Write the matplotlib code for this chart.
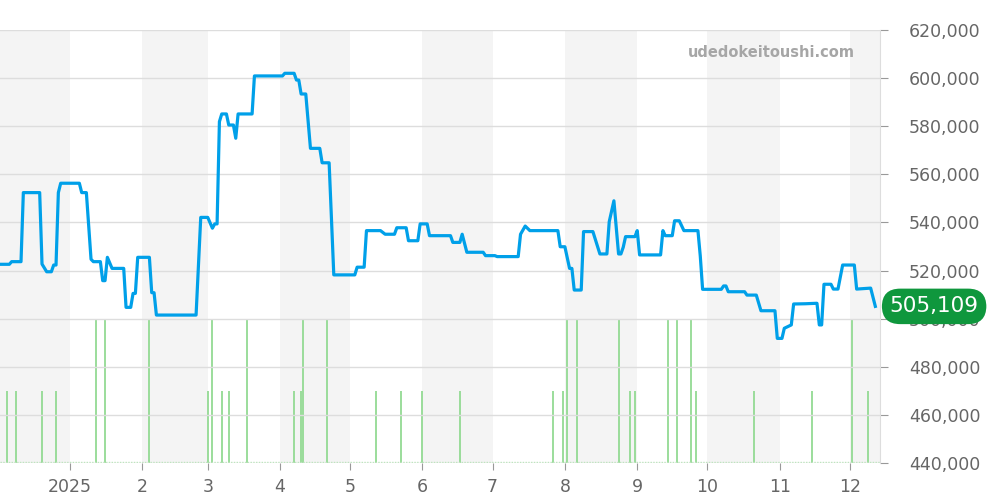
import matplotlib
matplotlib.use("Agg")
import matplotlib.pyplot as plt
import matplotlib.transforms as mtransforms
import numpy as np

# price history
price_dates = [
    "2024-12-02", "2024-12-06", "2024-12-07", "2024-12-11", "2024-12-12", "2024-12-19",
    "2024-12-20", "2024-12-22", "2024-12-24", "2024-12-25", "2024-12-26", "2024-12-27",
    "2024-12-28", "2025-01-05", "2025-01-06", "2025-01-08", "2025-01-10", "2025-01-11",
    "2025-01-14", "2025-01-15", "2025-01-16", "2025-01-17", "2025-01-19", "2025-01-24",
    "2025-01-25", "2025-01-27", "2025-01-28", "2025-01-29", "2025-01-30", "2025-02-04",
    "2025-02-05", "2025-02-06", "2025-02-07", "2025-02-24", "2025-02-26", "2025-03-01",
    "2025-03-03", "2025-03-04", "2025-03-05", "2025-03-06", "2025-03-07", "2025-03-09",
    "2025-03-10", "2025-03-12", "2025-03-13", "2025-03-14", "2025-03-20", "2025-03-21",
    "2025-04-02", "2025-04-03", "2025-04-07", "2025-04-08", "2025-04-09", "2025-04-10",
    "2025-04-12", "2025-04-14", "2025-04-18", "2025-04-19", "2025-04-22", "2025-04-24",
    "2025-05-03", "2025-05-04", "2025-05-07", "2025-05-08", "2025-05-14", "2025-05-16",
    "2025-05-20", "2025-05-21", "2025-05-25", "2025-05-26", "2025-05-30", "2025-05-31",
    "2025-06-03", "2025-06-04", "2025-06-13", "2025-06-14", "2025-06-17", "2025-06-18",
    "2025-06-20", "2025-06-27", "2025-06-28", "2025-07-02", "2025-07-03", "2025-07-12",
    "2025-07-13", "2025-07-15", "2025-07-17", "2025-07-29", "2025-07-30", "2025-08-01",
    "2025-08-03", "2025-08-04", "2025-08-05", "2025-08-08", "2025-08-09", "2025-08-13",
    "2025-08-16", "2025-08-19", "2025-08-20", "2025-08-22", "2025-08-24", "2025-08-25",
    "2025-08-26", "2025-08-27", "2025-08-31", "2025-09-01", "2025-09-02", "2025-09-11",
    "2025-09-12", "2025-09-13", "2025-09-16", "2025-09-17", "2025-09-19", "2025-09-21",
    "2025-09-27", "2025-09-28", "2025-09-29", "2025-10-07", "2025-10-08", "2025-10-09",
    "2025-10-10", "2025-10-17", "2025-10-18", "2025-10-22", "2025-10-24", "2025-10-30",
    "2025-10-31", "2025-11-02", "2025-11-03", "2025-11-06", "2025-11-07", "2025-11-12",
    "2025-11-17", "2025-11-18", "2025-11-19", "2025-11-20", "2025-11-23", "2025-11-24",
    "2025-11-26", "2025-11-28", "2025-12-03", "2025-12-04", "2025-12-10", "2025-12-12",
]
price_values = [
    522600, 522600, 523700, 523700, 552400, 552400,
    522700, 519500, 519500, 522300, 522300, 552400,
    556300, 556300, 552400, 552400, 524700, 523700,
    523700, 515800, 515800, 525500, 520900, 520900,
    504700, 504700, 510500, 510500, 525500, 525500,
    510800, 510800, 501500, 501500, 542100, 542100,
    537600, 539400, 539400, 581900, 585100, 585100,
    580500, 580500, 575000, 585100, 585100, 600900,
    600900, 602000, 602000, 599200, 599200, 593400,
    593400, 570800, 570800, 564800, 564800, 518200,
    518200, 521400, 521400, 536600, 536600, 535100,
    535100, 537800, 537800, 532400, 532400, 539400,
    539400, 534500, 534500, 531700, 531700, 535100,
    527600, 527600, 526200, 526200, 525800, 525800,
    535100, 538500, 536600, 536600, 529900, 529900,
    520900, 520900, 511900, 511900, 536200, 536200,
    526900, 526900, 540300, 549000, 526900, 526900,
    529700, 534100, 534100, 536600, 526500, 526500,
    536600, 534500, 534500, 540700, 540700, 536600,
    536600, 526100, 512200, 512200, 513600, 513600,
    511200, 511200, 509800, 509800, 503300, 503300,
    491800, 491800, 496000, 497400, 506100, 506200,
    506400, 497400, 497400, 514300, 514300, 512300,
    512300, 522300, 522300, 512300, 512700, 505109,
]

# listings per day (two heights in the reference)
volume_dates = [
    "2024-12-05", "2024-12-09", "2024-12-20", "2024-12-26", "2025-01-12", "2025-01-16",
    "2025-02-04", "2025-03-01", "2025-03-03", "2025-03-07", "2025-03-10", "2025-03-18",
    "2025-04-07", "2025-04-10", "2025-04-11", "2025-04-21", "2025-05-12", "2025-05-23",
    "2025-06-01", "2025-06-17", "2025-07-27", "2025-07-31", "2025-08-02", "2025-08-06",
    "2025-08-24", "2025-08-29", "2025-08-31", "2025-09-14", "2025-09-18", "2025-09-24",
    "2025-09-26", "2025-10-21", "2025-11-15", "2025-12-02", "2025-12-09",
]
volume_counts = [
    1, 1, 1, 1, 2, 2,
    2, 1, 2, 1, 1, 2,
    1, 1, 2, 2, 1, 1,
    1, 1, 1, 1, 2, 2,
    2, 1, 1, 2, 2, 2,
    1, 1, 1, 2, 1,
]

month_ticks = ["2025-%02d-01" % m for m in range(1, 13)]
month_labels = ["2025", "2", "3", "4", "5", "6", "7", "8", "9", "10", "11", "12"]
shaded_months = [("2024-12-01", "2025-01-01"), ("2025-02-01", "2025-03-01"),
                 ("2025-04-01", "2025-05-01"), ("2025-06-01", "2025-07-01"),
                 ("2025-08-01", "2025-09-01"), ("2025-10-01", "2025-11-01"),
                 ("2025-12-01", "2026-01-01")]
last_price = price_values[-1]

to_dt = lambda s: np.array(s, dtype="datetime64[D]")
x0, x1 = np.datetime64("2024-12-02"), np.datetime64("2025-12-14")

fig = plt.figure(figsize=(10, 5), dpi=100)
rect = [0.0, 0.074, 0.88, 0.866]

# background layer: month bands + listing bars
axv = fig.add_axes(rect)
for a, b in shaded_months:
    axv.axvspan(np.datetime64(a), np.datetime64(b), color="#f4f4f4", lw=0)
axv.vlines(to_dt(volume_dates), 0, volume_counts, color="#93da93", lw=1.3)
axv.axhline(0.02, color="#b8e6b8", lw=1, ls=(0, (1, 1)))
axv.set_xlim(x0, x1)
axv.set_ylim(0, 6.05)
axv.axis("off")

# price layer
ax = fig.add_axes(rect)
ax.patch.set_alpha(0)
ax.plot(to_dt(price_dates), price_values, color="#00a0e9", lw=2.3,
        solid_joinstyle="round", zorder=3)
ax.set_xlim(x0, x1)
ax.set_ylim(440000, 620000)
ax.set_yticks(np.arange(440000, 620001, 20000))
ax.yaxis.set_major_formatter(plt.FuncFormatter(lambda v, p: f"{int(v):,}"))
ax.yaxis.tick_right()
ax.grid(axis="y", color="#dddddd", lw=1)
ax.set_xticks(to_dt(month_ticks))
ax.set_xticklabels(month_labels)
for s in ["top", "left", "bottom"]:
    ax.spines[s].set_visible(False)
ax.spines["right"].set_color("#dddddd")
ax.tick_params(axis="y", length=6, color="#999999", labelcolor="#666666",
               labelsize=12.5, pad=15)
ax.tick_params(axis="x", length=5, color="#999999", labelcolor="#666666",
               labelsize=12.5, pad=6)

ax.text(0.877, 0.949, "udedokeitoushi.com", transform=ax.transAxes,
        ha="center", va="center", fontsize=10.5, fontweight="bold", color="#a6a6a6")

trans = mtransforms.blended_transform_factory(ax.transAxes, ax.transData)
ax.text(1.0615, last_price, f"{last_price:,}", transform=trans, ha="center",
        va="center", fontsize=15.5, color="white", zorder=5,
        bbox=dict(boxstyle="round,pad=0.36,rounding_size=0.85", fc="#0f973d", ec="none"))

fig.savefig("out.png", dpi=100)
